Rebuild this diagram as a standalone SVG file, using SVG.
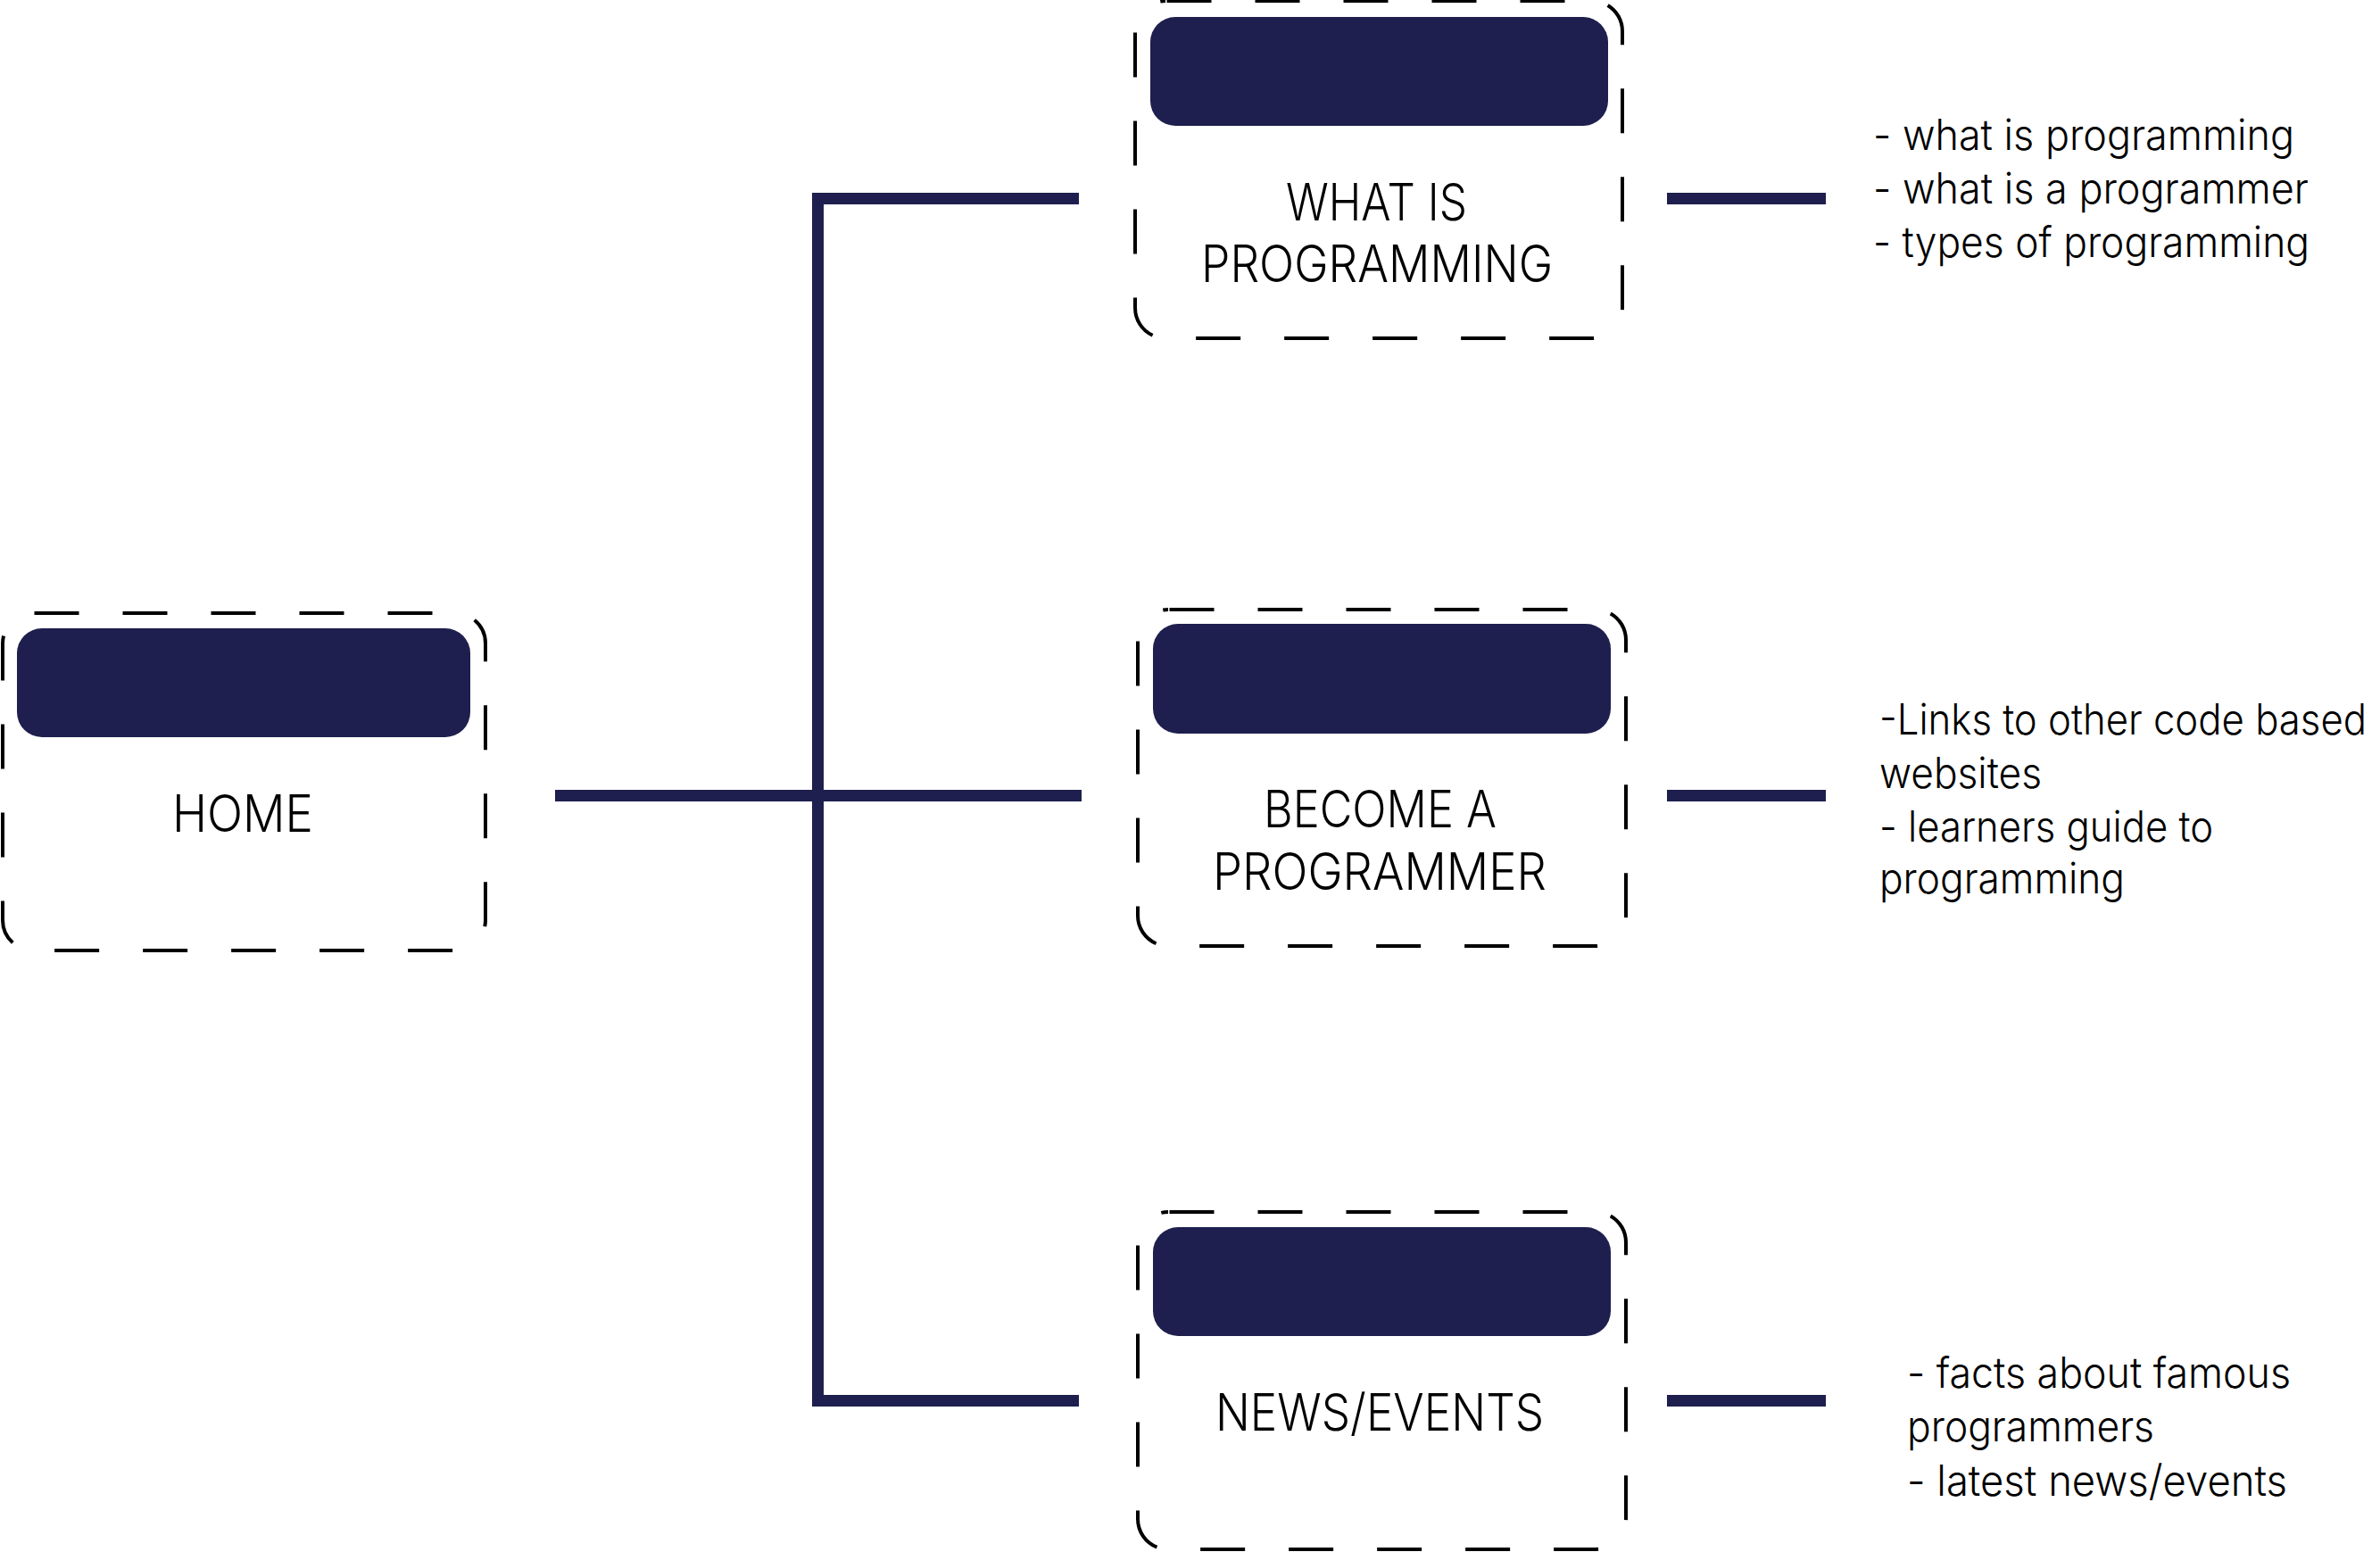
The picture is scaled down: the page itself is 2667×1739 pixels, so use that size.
<svg xmlns="http://www.w3.org/2000/svg" width="2667" height="1739" viewBox="0 0 2667 1739">
<style>
.frame{fill:none;stroke:#000;stroke-width:4;stroke-dasharray:50 49;stroke-dashoffset:-1.5}
.bar{fill:#1e1f4e}
.lbl{font-family:Inter,"Open Sans","Liberation Sans",sans-serif;font-weight:300;font-size:57px;fill:#000}
.note{font-family:Inter,"Open Sans","Liberation Sans",sans-serif;font-weight:300;font-size:48px;fill:#000}
.conn{fill:none;stroke:#1e1f4e;stroke-width:13;stroke-linecap:butt;stroke-linejoin:miter}
</style>
<rect width="2667" height="1739" fill="#fff"/>
<g id="connectors">
<path class="conn" d="M622,891.5 H1212"/>
<path class="conn" d="M1209,222.5 H916.5 V1569.5 H1209"/>
<path class="conn" d="M1877,222.5 H2055" transform="translate(-9,0)"/>
<path class="conn" d="M1877,891.5 H2055" transform="translate(-9,0)"/>
<path class="conn" d="M1877,1569.5 H2055" transform="translate(-9,0)"/>
</g>
<g id="home">
<rect class="frame" x="3" y="687" width="541" height="378" rx="34"/>
<rect class="bar" x="19" y="704" width="508" height="122" rx="28"/>
<text class="lbl" x="193" y="932" textLength="158" lengthAdjust="spacingAndGlyphs">HOME</text>
</g>
<g id="what-is-programming">
<rect class="frame" x="1272" y="1" width="546" height="378" rx="34"/>
<rect class="bar" x="1289" y="19" width="513" height="122" rx="28"/>
<text class="lbl" x="1441" y="247" textLength="203" lengthAdjust="spacingAndGlyphs">WHAT IS</text>
<text class="lbl" x="1346" y="316" textLength="394" lengthAdjust="spacingAndGlyphs">PROGRAMMING</text>
</g>
<g id="become-a-programmer">
<rect class="frame" x="1275" y="683" width="547" height="377" rx="34"/>
<rect class="bar" x="1292" y="699" width="513" height="123" rx="28"/>
<text class="lbl" x="1416" y="927" textLength="261" lengthAdjust="spacingAndGlyphs">BECOME A</text>
<text class="lbl" x="1359" y="997" textLength="374" lengthAdjust="spacingAndGlyphs">PROGRAMMER</text>
</g>
<g id="news-events">
<rect class="frame" x="1275" y="1358" width="547" height="378" rx="34"/>
<rect class="bar" x="1292" y="1375" width="513" height="122" rx="28"/>
<text class="lbl" x="1362" y="1603" textLength="368" lengthAdjust="spacingAndGlyphs">NEWS/EVENTS</text>
</g>
<g id="notes-programming">
<text class="note" x="2099" y="168" textLength="472" lengthAdjust="spacingAndGlyphs">- what is programming</text>
<text class="note" x="2099" y="228" textLength="488" lengthAdjust="spacingAndGlyphs">- what is a programmer</text>
<text class="note" x="2099" y="288" textLength="489" lengthAdjust="spacingAndGlyphs">- types of programming</text>
</g>
<g id="notes-programmer">
<text class="note" x="2106" y="823" textLength="546" lengthAdjust="spacingAndGlyphs">-Links to other code based</text>
<text class="note" x="2106" y="883" textLength="182" lengthAdjust="spacingAndGlyphs">websites</text>
<text class="note" x="2106" y="943" textLength="374" lengthAdjust="spacingAndGlyphs">- learners guide to</text>
<text class="note" x="2106" y="1001" textLength="275" lengthAdjust="spacingAndGlyphs">programming</text>
</g>
<g id="notes-news">
<text class="note" x="2137" y="1555" textLength="430" lengthAdjust="spacingAndGlyphs">- facts about famous</text>
<text class="note" x="2137" y="1615" textLength="277" lengthAdjust="spacingAndGlyphs">programmers</text>
<text class="note" x="2137" y="1676" textLength="426" lengthAdjust="spacingAndGlyphs">- latest news/events</text>
</g>
</svg>
